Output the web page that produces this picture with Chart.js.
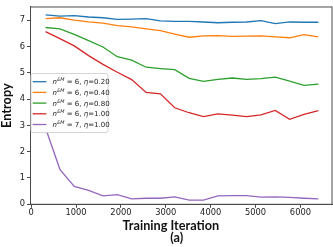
<!DOCTYPE html>
<html>
<head>
<meta charset="utf-8">
<script src="https://cdn.jsdelivr.net/npm/chart.js@4.4.1/dist/chart.umd.min.js"></script>
<style>
  html, body { margin: 0; padding: 0; background: #fff; }
  #wrap { width: 333px; height: 247px; position: relative; }
</style>
</head>
<body>
<div id="wrap"><canvas id="entropy-chart"></canvas></div>
<script>
const iterations = [320, 640, 960, 1280, 1600, 1920, 2240, 2560, 2880, 3200,
                    3520, 3840, 4160, 4480, 4800, 5120, 5440, 5760, 6080, 6400];

const eta020 = [7.20, 7.15, 7.17, 7.12, 7.09, 7.03, 7.04, 7.06, 6.97, 6.95,
                6.95, 6.93, 6.90, 6.92, 6.93, 6.98, 6.87, 6.93, 6.92, 6.92];
const eta040 = [7.06, 7.09, 7.00, 6.93, 6.89, 6.79, 6.74, 6.67, 6.60, 6.47,
                6.35, 6.40, 6.41, 6.38, 6.39, 6.40, 6.36, 6.33, 6.45, 6.36];
const eta080 = [6.72, 6.67, 6.46, 6.22, 5.98, 5.61, 5.48, 5.21, 5.16, 5.12,
                4.79, 4.67, 4.75, 4.80, 4.75, 4.78, 4.83, 4.68, 4.52, 4.57];
const eta100 = [6.56, 6.30, 6.02, 5.65, 5.32, 5.02, 4.74, 4.25, 4.20, 3.67,
                3.48, 3.33, 3.44, 3.39, 3.33, 3.40, 3.57, 3.23, 3.42, 3.56];
const em7eta100 = [2.90, 1.33, 0.68, 0.53, 0.32, 0.37, 0.21, 0.23, 0.23, 0.28,
                   0.16, 0.16, 0.32, 0.33, 0.33, 0.27, 0.28, 0.26, 0.23, 0.21];

const xTicks = [0, 1000, 2000, 3000, 4000, 5000, 6000];
const yTicks = [0, 1, 2, 3, 4, 5, 6, 7];

const series = [
  { em: '6', eta: '0.20', values: eta020, color: '#1f77b4' },
  { em: '6', eta: '0.40', values: eta040, color: '#ff7f0e' },
  { em: '6', eta: '0.80', values: eta080, color: '#2ca02c' },
  { em: '6', eta: '1.00', values: eta100, color: '#d62728' },
  { em: '7', eta: '1.00', values: em7eta100, color: '#9467bd' },
];

const TITLE_FONT = 'bold 12.7px Lato';
const TICK_FONT = { family: 'DejaVu Sans', size: 8.3 };
const SPINE = '#4a4a4a';

// legend with mathtext-ish label: n^{EM} = 6, η=0.20
function drawLegend(ctx, area) {
  const x0 = area.left + 0.5, y0 = 73.5, w = 77, h = 59;
  ctx.save();
  ctx.fillStyle = '#fff';
  ctx.strokeStyle = '#d4d4d4';
  ctx.lineWidth = 1;
  ctx.beginPath();
  ctx.roundRect(x0, y0, w, h, 2);
  ctx.fill();
  ctx.stroke();
  ctx.textBaseline = 'alphabetic';
  series.forEach((s, i) => {
    const y = 81.7 + i * 10.7;
    ctx.strokeStyle = s.color;
    ctx.lineWidth = 1.3;
    ctx.beginPath();
    ctx.moveTo(32.7, y);
    ctx.lineTo(46.3, y);
    ctx.stroke();
    const base = y + 2.5;
    let x = 52.5;
    ctx.fillStyle = '#222';
    ctx.font = 'italic 7px "DejaVu Sans"';
    ctx.fillText('n', x, base);
    x += ctx.measureText('n').width + 0.3;
    ctx.font = 'italic 4.9px "DejaVu Sans"';
    ctx.fillText('EM', x, base - 2.9);
    x += ctx.measureText('EM').width;
    ctx.font = '7px "DejaVu Sans"';
    const mid = ' = ' + s.em + ', ';
    ctx.fillText(mid, x, base);
    x += ctx.measureText(mid).width;
    ctx.font = 'italic 7px "DejaVu Sans"';
    ctx.fillText('η', x, base);
    x += ctx.measureText('η').width;
    ctx.font = '7px "DejaVu Sans"';
    ctx.fillText('=' + s.eta, x, base);
  });
  ctx.restore();
}

const framePlugin = {
  id: 'frame',
  afterDraw(chart) {
    const { ctx, chartArea: a } = chart;
    ctx.save();
    ctx.strokeStyle = SPINE;
    ctx.lineWidth = 1;
    ctx.strokeRect(a.left, a.top, a.right - a.left, a.bottom - a.top);

    ctx.fillStyle = '#111';
    ctx.font = TITLE_FONT;
    ctx.textAlign = 'center';
    ctx.textBaseline = 'alphabetic';
    ctx.fillText('Training Iteration', 170.8, 229.5);
    ctx.fillText('(a)', 176.7, 241.5);

    ctx.translate(11.2, (a.top + a.bottom) / 2);
    ctx.rotate(-Math.PI / 2);
    ctx.fillText('Entropy', 0, 0);
    ctx.restore();

    drawLegend(ctx, a);
  }
};

new Chart(document.getElementById('entropy-chart'), {
  type: 'line',
  data: {
    datasets: series.map(s => ({
      label: 'n^EM = ' + s.em + ', η=' + s.eta,
      data: iterations.map((it, i) => ({ x: it, y: s.values[i] })),
      borderColor: s.color,
      borderWidth: 1.3,
      pointRadius: 0,
      fill: false,
      tension: 0,
    }))
  },
  options: {
    responsive: true,
    maintainAspectRatio: false,
    animation: false,
    devicePixelRatio: 1,
    layout: { padding: { top: 1, right: 1, left: 0, bottom: 0 } },
    plugins: { legend: { display: false }, tooltip: { enabled: false } },
    scales: {
      x: {
        type: 'linear',
        min: -15,
        max: 6704,
        afterBuildTicks: s => { s.ticks = xTicks.map(v => ({ value: v })); },
        afterFit: s => { s.height = 42.7; },
        grid: { drawOnChartArea: false, tickLength: 3.5, color: SPINE },
        border: { color: SPINE },
        ticks: { color: '#222', font: TICK_FONT, padding: 0.5, maxRotation: 0, callback: v => String(v) },
      },
      y: {
        min: 0,
        max: 7.5,
        afterBuildTicks: s => { s.ticks = yTicks.map(v => ({ value: v })); },
        afterFit: s => { s.width = 30.5; },
        grid: { drawOnChartArea: false, tickLength: 3.5, color: SPINE },
        border: { color: SPINE },
        ticks: { color: '#222', font: TICK_FONT, padding: 2, callback: v => String(v) },
      }
    }
  },
  plugins: [framePlugin]
});
</script>
</body>
</html>
